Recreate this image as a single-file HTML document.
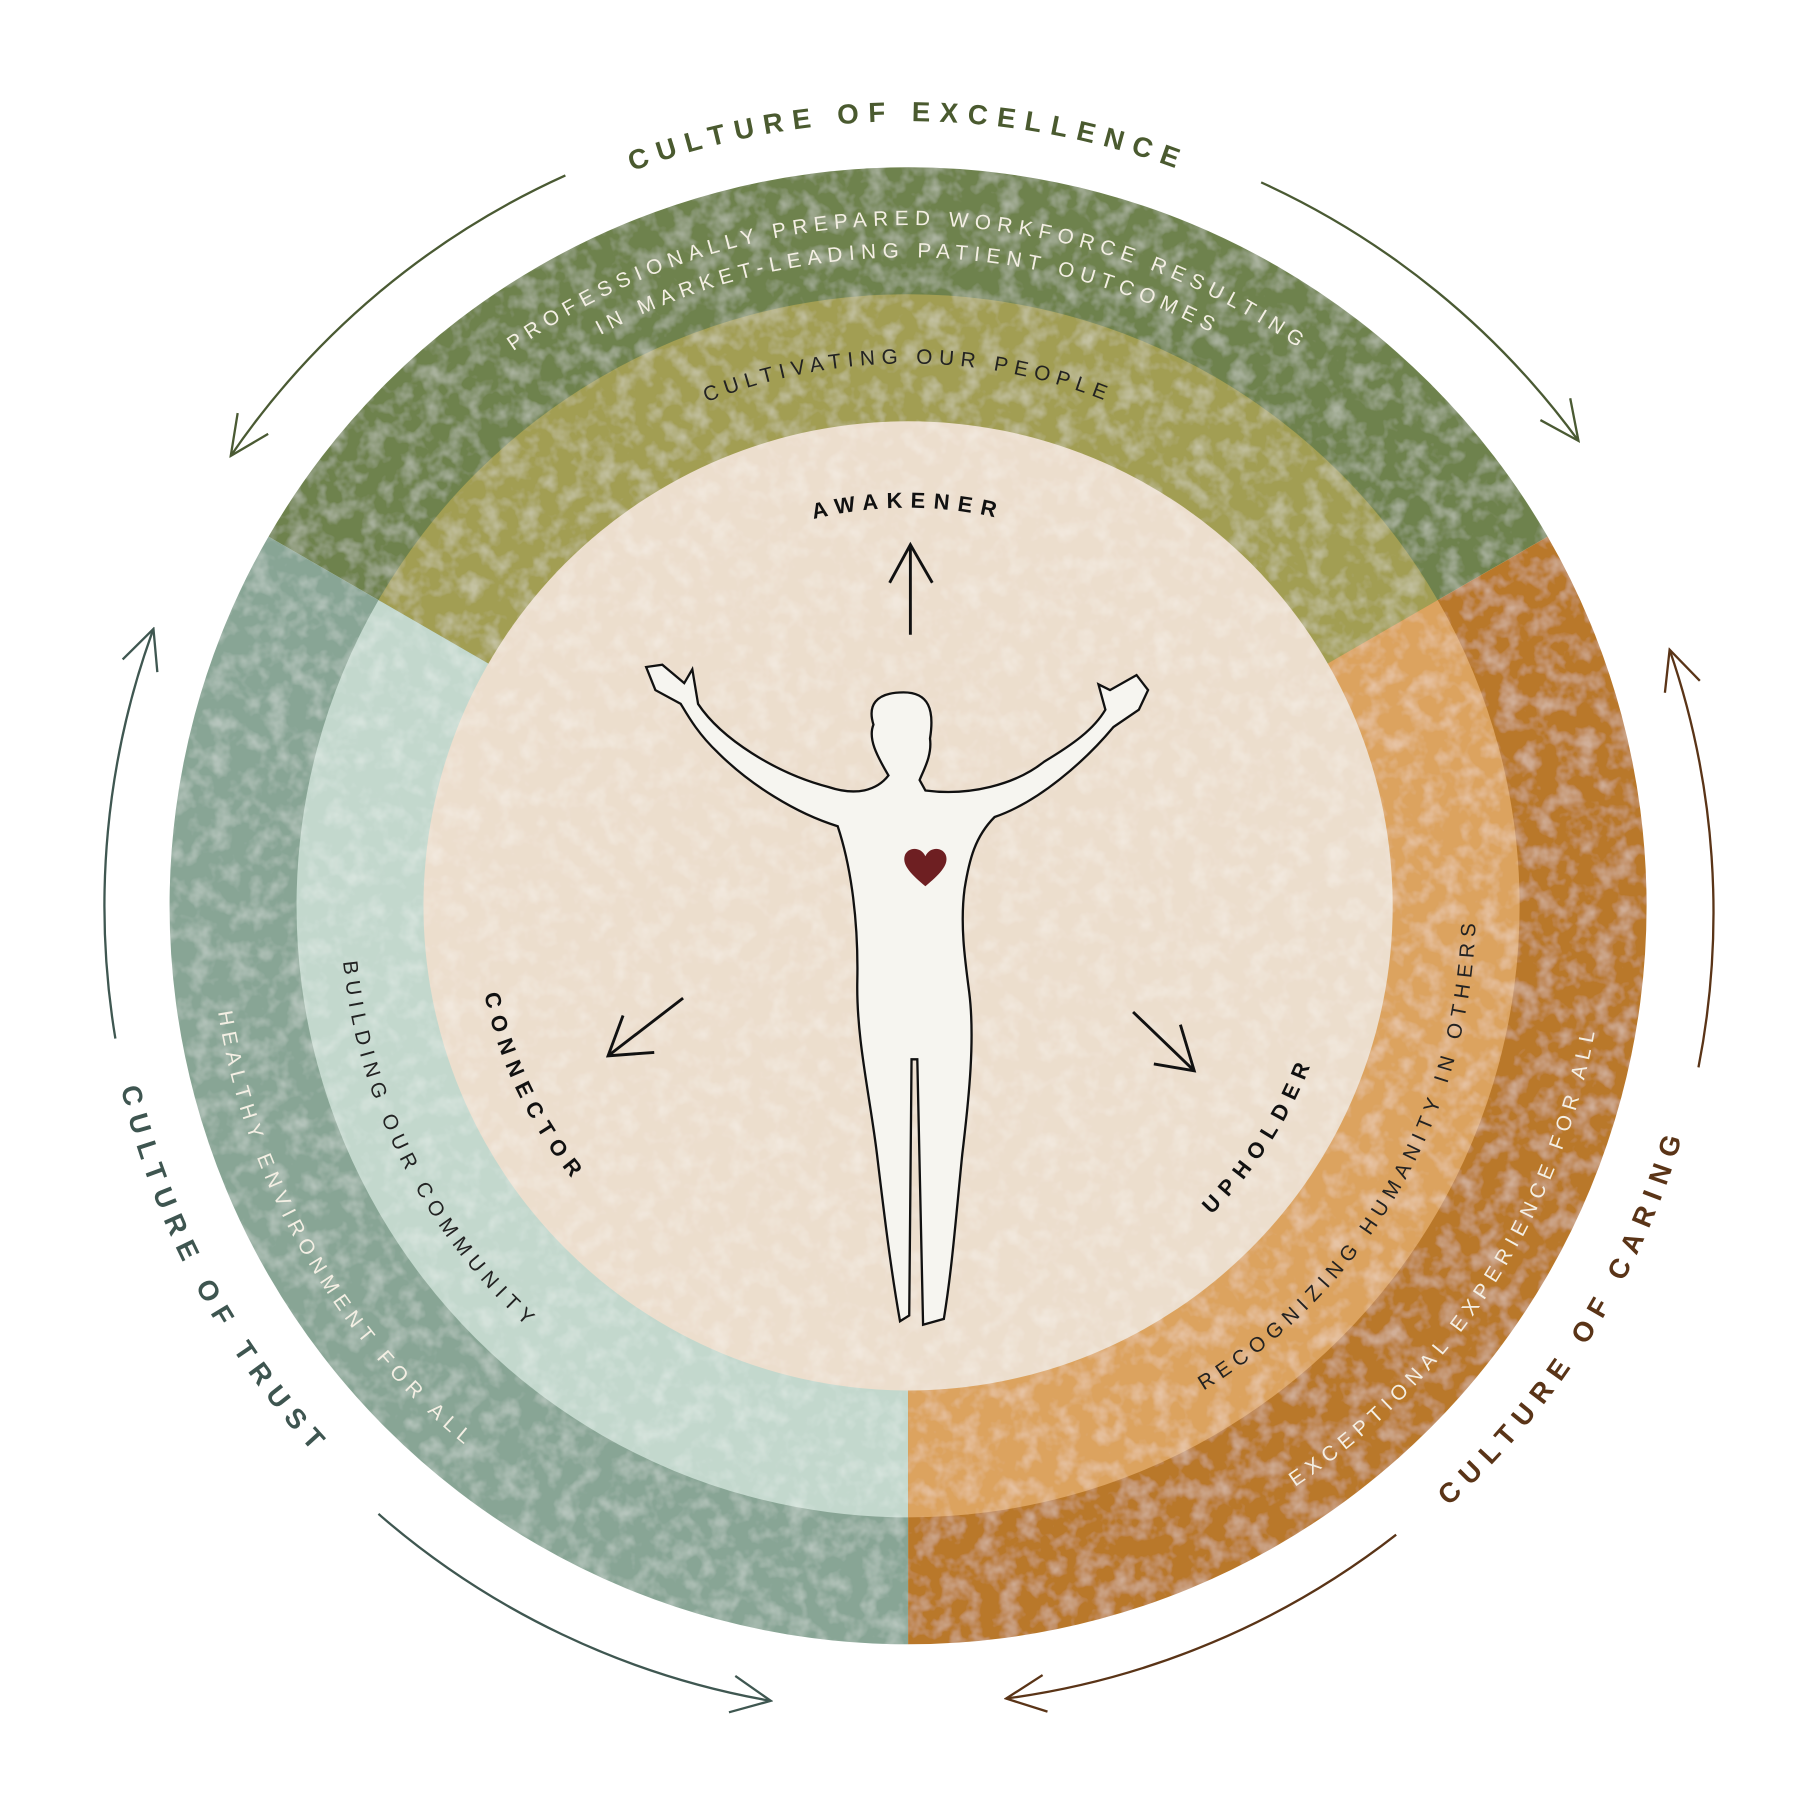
<!DOCTYPE html>
<html><head><meta charset="utf-8"><style>
html,body{margin:0;padding:0;background:#fff;}
svg{display:block;}
text{font-family:"Liberation Sans",sans-serif;}
</style></head><body>
<svg width="1800" height="1799" viewBox="0 0 1560 1559" xmlns="http://www.w3.org/2000/svg">
<defs>
<filter id="tex" x="0" y="0" width="100%" height="100%">
<feTurbulence type="fractalNoise" baseFrequency="0.06" numOctaves="3" seed="3" result="n"/>
<feColorMatrix in="n" type="matrix" values="0 0 0 0 1  0 0 0 0 1  0 0 0 0 1  0 0 0 -2.2 1.25" result="m"/>
<feComponentTransfer in="m" result="m2"><feFuncA type="linear" slope="0.3"/></feComponentTransfer>
<feComposite in="m2" in2="SourceGraphic" operator="in" result="c"/>
<feMerge><feMergeNode in="SourceGraphic"/><feMergeNode in="c"/></feMerge>
</filter>
<marker id="ag" viewBox="0 0 40 40" refX="38" refY="20" markerWidth="40" markerHeight="40" markerUnits="userSpaceOnUse" orient="auto"><path d="M4 4 L38 20 L4 36" fill="none" stroke="context-stroke" stroke-width="2"/></marker>
<path id="cw680" d="M107 785 A680 680 0 1 1 1467 785 A680 680 0 1 1 107 785"/>
<path id="cw590" d="M197 785 A590 590 0 1 1 1377 785 A590 590 0 1 1 197 785"/>
<path id="cw562" d="M225 785 A562 562 0 1 1 1349 785 A562 562 0 1 1 225 785"/>
<path id="cw470" d="M317 785 A470 470 0 1 1 1257 785 A470 470 0 1 1 317 785"/>
<path id="cw345" d="M442 785 A345 345 0 1 1 1132 785 A345 345 0 1 1 442 785"/>
<path id="cc700" d="M787 85 A700 700 0 1 0 787 1485 A700 700 0 1 0 787 85"/>
<path id="cc605" d="M787 180 A605 605 0 1 0 787 1390 A605 605 0 1 0 787 180"/>
<path id="cc492" d="M787 293 A492 492 0 1 0 787 1277 A492 492 0 1 0 787 293"/>
<path id="cc375" d="M787 410 A375 375 0 1 0 787 1160 A375 375 0 1 0 787 410"/>
</defs>

<g filter="url(#tex)">
<path d="M787 785 L1341.3 465 A640 640 0 0 0 232.7 465 Z" fill="#6e824d"/>
<path d="M787 785 L232.7 465 A640 640 0 0 0 787 1425 Z" fill="#88a595"/>
<path d="M787 785 L787 1425 A640 640 0 0 0 1341.3 465 Z" fill="#b9782c"/>
<path d="M787 785 L1246 520 A530 530 0 0 0 328 520 Z" fill="#a29e52"/>
<path d="M787 785 L328 520 A530 530 0 0 0 787 1315 Z" fill="#c3d8cd"/>
<path d="M787 785 L787 1315 A530 530 0 0 0 1246 520 Z" fill="#dca35e"/>
<circle cx="787" cy="785" r="420" fill="#ecdecd"/>
</g>

<g fill="none" stroke-width="2">
<path d="M490 152 A700 700 0 0 0 200 395" stroke="#4a5a33" marker-end="url(#ag)"/>
<path d="M1093 158 A700 700 0 0 1 1368 382" stroke="#4a5a33" marker-end="url(#ag)"/>
<path d="M1472 925 A700 700 0 0 0 1447 563" stroke="#5a3417" marker-end="url(#ag)"/>
<path d="M1210 1330 A700 700 0 0 1 872 1472" stroke="#5a3417" marker-end="url(#ag)"/>
<path d="M328 1312 A700 700 0 0 0 668 1474" stroke="#3f5751" marker-end="url(#ag)"/>
<path d="M100 900 A700 700 0 0 1 133 545" stroke="#3f5751" marker-end="url(#ag)"/>
</g>

<text font-size="24" font-weight="bold" letter-spacing="8" fill="#4a5a2f" text-anchor="middle"><textPath href="#cw680" startOffset="25%">CULTURE OF EXCELLENCE</textPath></text>
<text font-size="24" font-weight="bold" letter-spacing="8" fill="#3e5550" text-anchor="middle"><textPath href="#cc700" startOffset="32.8%">CULTURE OF TRUST</textPath></text>
<text font-size="24" font-weight="bold" letter-spacing="8" fill="#5a3417" text-anchor="middle"><textPath href="#cc700" startOffset="66.1%">CULTURE OF CARING</textPath></text>

<g font-size="18" letter-spacing="5.5" fill="#f4efe4" text-anchor="middle">
<text><textPath href="#cw590" startOffset="25%">PROFESSIONALLY PREPARED WORKFORCE RESULTING</textPath></text>
<text><textPath href="#cw562" startOffset="25%">IN MARKET-LEADING PATIENT OUTCOMES</textPath></text>
<text><textPath href="#cc605" startOffset="33.3%">HEALTHY ENVIRONMENT FOR ALL</textPath></text>
<text><textPath href="#cc605" startOffset="65.8%">EXCEPTIONAL EXPERIENCE FOR ALL</textPath></text>
</g>
<g font-size="18" letter-spacing="5.5" fill="#222" text-anchor="middle">
<text><textPath href="#cw470" startOffset="25%">CULTIVATING OUR PEOPLE</textPath></text>
<text><textPath href="#cc492" startOffset="32.5%">BUILDING OUR COMMUNITY</textPath></text>
<text><textPath href="#cc492" startOffset="66.7%">RECOGNIZING HUMANITY IN OTHERS</textPath></text>
</g>
<g font-size="19" font-weight="bold" letter-spacing="7" fill="#111" text-anchor="middle">
<text><textPath href="#cw345" startOffset="25%">AWAKENER</textPath></text>
<text><textPath href="#cc375" startOffset="32.2%">CONNECTOR</textPath></text>
<text><textPath href="#cc375" startOffset="65.8%">UPHOLDER</textPath></text>
</g>

<g stroke="#111" stroke-width="2.5" fill="none">
<path d="M789 550 L789 472 M771 505 L789 472 L808 505"/>
<path d="M592 865 L527 915 M540 880 L527 915 L567 912"/>
<path d="M982 877 L1035 928 M1000 922 L1035 928 L1023 888"/>
</g>

<path d="M770 672 C760 655 752 640 757 628 C752 612 758 600 783 600 C805 600 810 615 806 640 C808 655 800 668 797 676 L802 685 C840 690 880 680 905 660 C930 645 948 632 958 615 L952 593 L962 598 L985 585 L995 598 L987 615 L965 630 C940 660 900 695 862 708 C845 725 840 745 836 770 C832 800 836 830 840 860 C845 900 840 950 834 1000 C828 1060 825 1100 818 1143 L800 1148 L795 918 L790 918 L788 1140 L780 1145 C772 1100 766 1050 760 1000 C754 950 742 900 743 850 C744 800 738 752 726 716 C690 705 650 680 622 652 C605 636 596 620 590 610 L568 598 L560 578 L574 576 L593 592 L600 580 L605 610 C625 640 672 670 718 682 C742 690 760 685 770 672 Z" fill="#f6f5f0" stroke="#111" stroke-width="2"/>
<path d="M802 768 C790 758 782 750 784 742 C786 734 798 733 802 742 C806 733 818 734 820 742 C822 750 814 758 802 768 Z" fill="#6e1f22"/>
</svg>
</body></html>
